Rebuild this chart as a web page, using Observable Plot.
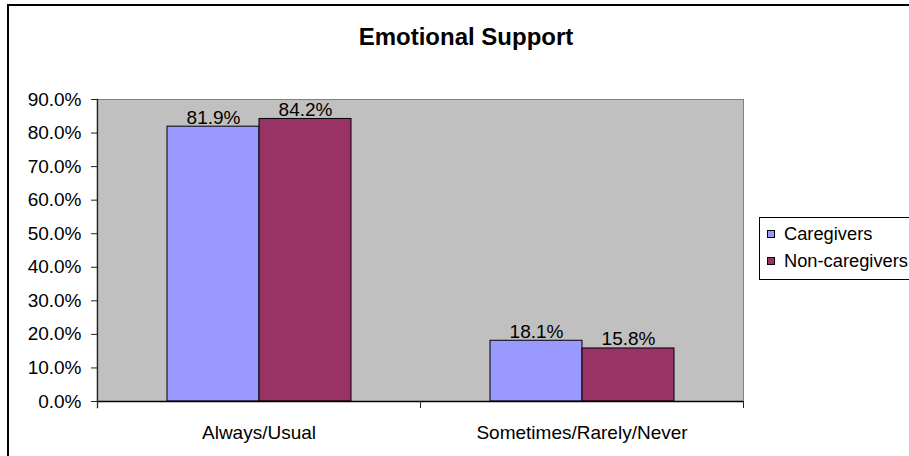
<!DOCTYPE html>
<html>
<head>
<meta charset="utf-8">
<script src="https://cdn.jsdelivr.net/npm/d3@7"></script>
<script src="https://cdn.jsdelivr.net/npm/@observablehq/plot@0.6"></script>
<style>
  html, body { margin: 0; padding: 0; background: #fff; overflow: hidden; }
  #wrap { position: relative; width: 909px; height: 456px; overflow: hidden; font-family: Arial, "Liberation Sans", sans-serif; }
  #wrap svg { position: absolute; left: 0; top: 0; }
  #border { position: absolute; left: 7px; top: 4px; width: 1000px; height: 600px; border: 2px solid #000; box-sizing: border-box; }
  #title { position: absolute; left: 0; width: 932px; top: 25px; text-align: center; font-size: 24px; line-height: 24px; font-weight: bold; color: #000; }
  #legend { position: absolute; left: 759px; top: 217px; width: 200px; height: 63px; border: 1px solid #000; box-sizing: border-box; background: #fff; }
  .item { position: absolute; left: 0; height: 19px; font-size: 18.3px; line-height: 19px; color: #000; white-space: nowrap; }
  .sw { position: absolute; left: 7px; top: 6px; width: 8px; height: 8px; border: 1px solid #000; box-sizing: border-box; }
  .lab { position: absolute; left: 24px; top: 0; }
</style>
</head>
<body>
<div id="wrap"></div>
<script>
const categories = ["Always/Usual", "Sometimes/Rarely/Never"];
const series = ["Caregivers", "Non-caregivers"];
const caregivers = [0.819, 0.181];
const nonCaregivers = [0.842, 0.158];
const colors = ["#9999FF", "#993366"];
const yTicks = [0, 0.1, 0.2, 0.3, 0.4, 0.5, 0.6, 0.7, 0.8, 0.9];
const title = "Emotional Support";

const values = [caregivers, nonCaregivers];
const data = [];
categories.forEach((c, i) => {
  series.forEach((s, j) => data.push({category: c, series: s, value: values[j][i]}));
});
const fmt = d3.format(".1%");

const W = 909, H = 456;
const mL = 97, mR = 166, mT = 99, mB = 55;
const innerH = H - mT - mB;

const plot = Plot.plot({
  width: W,
  height: H,
  marginLeft: mL,
  marginRight: mR,
  marginTop: mT,
  marginBottom: mB,
  style: {background: "transparent", fontFamily: "Arial, 'Liberation Sans', sans-serif", fontSize: "19px", color: "#000", overflow: "visible"},
  fx: {domain: categories, padding: 0, label: null},
  x: {domain: series, paddingInner: 0, paddingOuter: 0.737, axis: null},
  y: {domain: [0, 0.9], label: null},
  color: {domain: series, range: colors},
  marks: [
    Plot.frame({fill: "#C0C0C0", insetLeft: -1}),
    Plot.frame({anchor: "top", stroke: "#808080"}),
    Plot.frame({anchor: "right", stroke: "#808080", facetAnchor: "right"}),
    Plot.barY(data, {fx: "category", x: "series", y: "value", fill: "series", stroke: "#000", strokeWidth: 1}),
    Plot.text(data, {fx: "category", x: "series", y: "value", text: d => fmt(d.value), lineAnchor: "bottom", dy: -3, fill: "#000", fontSize: 19}),
    Plot.ruleY([0], {stroke: "#000", strokeWidth: 1.3}),
    Plot.frame({anchor: "left", stroke: "#222", strokeWidth: 1.3, facetAnchor: "left", insetBottom: -6}),
    Plot.frame({anchor: "left", stroke: "#222", insetTop: innerH, insetBottom: -6}),
    Plot.frame({anchor: "right", stroke: "#222", insetTop: innerH, insetBottom: -6, facetAnchor: "right"}),
    Plot.axisY({ticks: yTicks, tickFormat: fmt, tickSize: 6, tickPadding: 10, stroke: "#222", fontSize: 19, label: null}),
    Plot.axisFx({anchor: "bottom", tickSize: 0, tickPadding: 24, fontSize: 19, label: null})
  ]
});

const wrap = document.getElementById("wrap");
wrap.appendChild(plot);

const border = document.createElement("div");
border.id = "border";
wrap.appendChild(border);

const t = document.createElement("div");
t.id = "title";
t.textContent = title;
wrap.appendChild(t);

const legend = document.createElement("div");
legend.id = "legend";
series.forEach((s, i) => {
  const item = document.createElement("div");
  item.className = "item";
  item.style.top = (6 + i * 27.4) + "px";
  const sw = document.createElement("span");
  sw.className = "sw";
  sw.style.background = colors[i];
  const lab = document.createElement("span");
  lab.className = "lab";
  lab.textContent = s;
  item.appendChild(sw);
  item.appendChild(lab);
  legend.appendChild(item);
});
wrap.appendChild(legend);
</script>
</body>
</html>
